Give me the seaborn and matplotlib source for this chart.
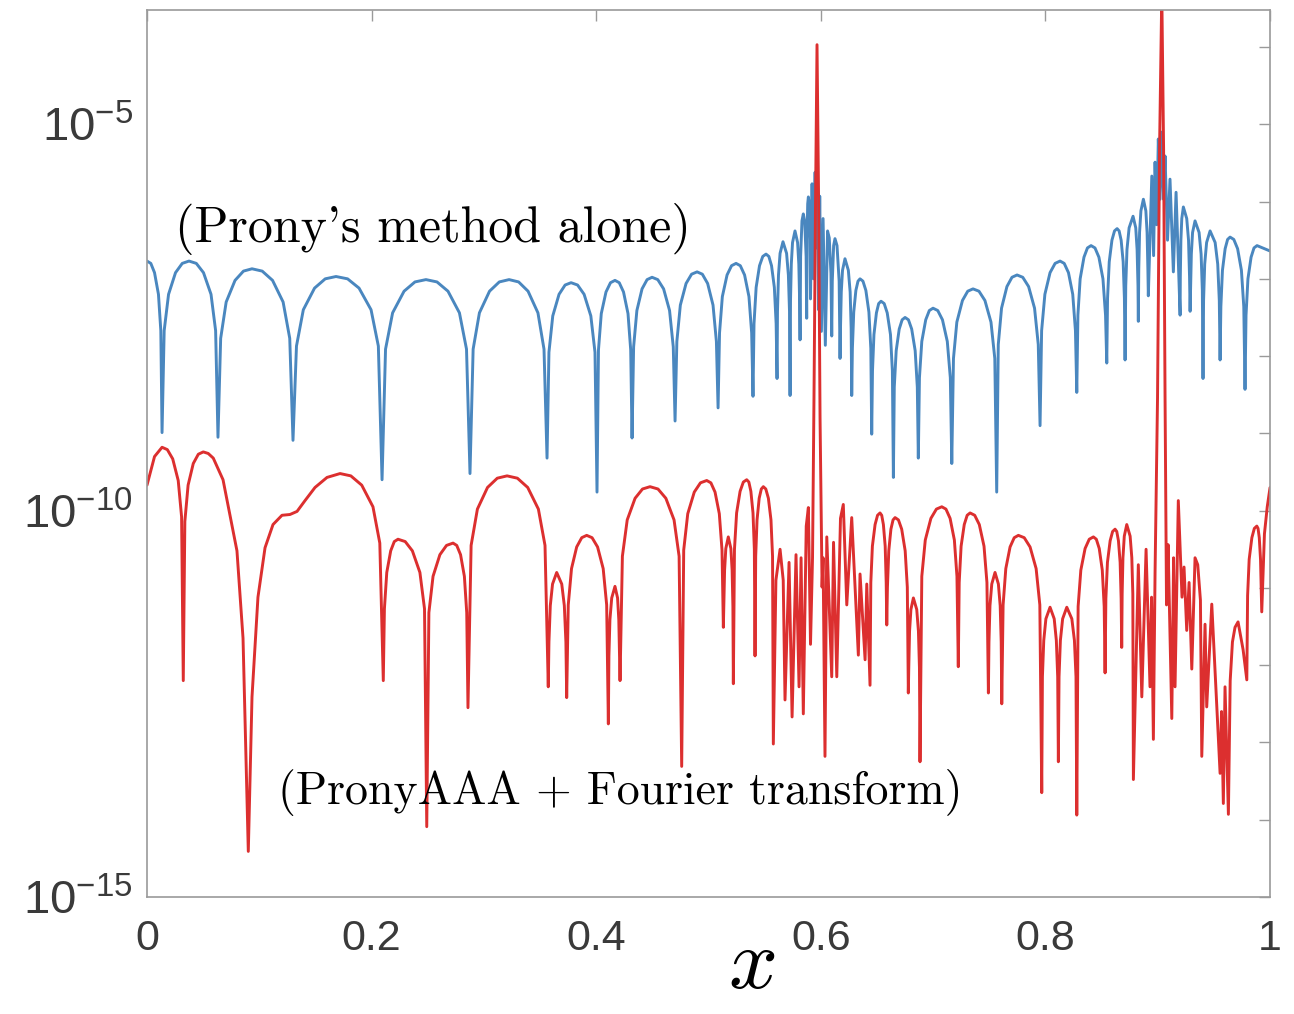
import matplotlib
matplotlib.use('Agg')
import matplotlib.pyplot as plt
import seaborn as sns
import numpy as np
from matplotlib.ticker import NullLocator

# ---------------------------------------------
# 데이터 (그림에서 읽은 값, y 는 log10 지수)
# 한 줄 = 한 개의 아치 (골 -> 꼭대기 -> 골)
# ---------------------------------------------
prony_x = [
    0.0000, 0.0034, 0.0067, 0.0102, 0.0123, 0.0134,
    0.0153, 0.0192, 0.0254, 0.0314, 0.0374, 0.0439, 0.0503, 0.0570, 0.0611, 0.0632,
    0.0656, 0.0705, 0.0784, 0.0859, 0.0935, 0.1026, 0.1118, 0.1212, 0.1271, 0.1300,
    0.1331, 0.1392, 0.1492, 0.1587, 0.1683, 0.1786, 0.1888, 0.1995, 0.2060, 0.2093,
    0.2124, 0.2187, 0.2289, 0.2386, 0.2484, 0.2582, 0.2680, 0.2782, 0.2845, 0.2876,
    0.2904, 0.2960, 0.3050, 0.3137, 0.3224, 0.3309, 0.3393, 0.3481, 0.3535, 0.3562,
    0.3579, 0.3613, 0.3669, 0.3723, 0.3776, 0.3834, 0.3892, 0.3952, 0.3989, 0.4007,
    0.4020, 0.4045, 0.4087, 0.4127, 0.4167, 0.4205, 0.4243, 0.4283, 0.4307, 0.4319,
    0.4333, 0.4362, 0.4408, 0.4453, 0.4497, 0.4548, 0.4600, 0.4653, 0.4686, 0.4702,
    0.4718, 0.4749, 0.4800, 0.4849, 0.4898, 0.4945, 0.4992, 0.5040, 0.5070, 0.5085,
    0.5098, 0.5123, 0.5165, 0.5205, 0.5245, 0.5283, 0.5321, 0.5360, 0.5384, 0.5396,
    0.5405, 0.5424, 0.5454, 0.5483, 0.5512, 0.5537, 0.5561, 0.5586, 0.5602, 0.5610,
    0.5614, 0.5623, 0.5637, 0.5663, 0.5695, 0.5711, 0.5721, 0.5726,
    0.5730, 0.5737, 0.5748, 0.5770, 0.5793, 0.5804, 0.5811, 0.5815,
    0.5820, 0.5832, 0.5844, 0.5856, 0.5869, 0.5874,
    0.5877, 0.5883, 0.5889, 0.5897, 0.5904, 0.5908,
    0.5922, 0.5935, 0.5949, 0.5958, 0.5966, 0.5980, 0.5990, 0.6005,
    0.6020, 0.6040, 0.6060, 0.6075, 0.6090, 0.6097,
    0.6102, 0.6114, 0.6126, 0.6144, 0.6163, 0.6171,
    0.6175, 0.6182, 0.6193, 0.6215, 0.6245, 0.6261, 0.6270, 0.6275,
    0.6281, 0.6293, 0.6312, 0.6331, 0.6349, 0.6375, 0.6401, 0.6428, 0.6445, 0.6453,
    0.6460, 0.6473, 0.6495, 0.6515, 0.6536, 0.6564, 0.6591, 0.6620, 0.6637, 0.6646,
    0.6654, 0.6671, 0.6698, 0.6724, 0.6750, 0.6780, 0.6809, 0.6840, 0.6859, 0.6868,
    0.6878, 0.6899, 0.6934, 0.6966, 0.6999, 0.7041, 0.7083, 0.7126, 0.7153, 0.7166,
    0.7181, 0.7211, 0.7261, 0.7308, 0.7355, 0.7408, 0.7461, 0.7515, 0.7549, 0.7566,
    0.7580, 0.7609, 0.7657, 0.7702, 0.7747, 0.7798, 0.7850, 0.7903, 0.7936, 0.7952,
    0.7966, 0.7995, 0.8041, 0.8086, 0.8130, 0.8167, 0.8205, 0.8243, 0.8267, 0.8279,
    0.8289, 0.8309, 0.8343, 0.8374, 0.8406, 0.8441, 0.8476, 0.8512, 0.8535, 0.8546,
    0.8553, 0.8568, 0.8592, 0.8615, 0.8638, 0.8656, 0.8674, 0.8692, 0.8703, 0.8709,
    0.8715, 0.8726, 0.8745, 0.8780, 0.8804, 0.8816, 0.8824, 0.8827,
    0.8831, 0.8838, 0.8850, 0.8872, 0.8894, 0.8905, 0.8912, 0.8916,
    0.8947, 0.8963, 0.8976, 0.8991, 0.9005, 0.9020, 0.9038, 0.9052,
    0.9065, 0.9087, 0.9109, 0.9139, 0.9163, 0.9199,
    0.9201, 0.9206, 0.9214, 0.9228, 0.9258, 0.9274, 0.9283, 0.9288,
    0.9292, 0.9299, 0.9310, 0.9332, 0.9368, 0.9386, 0.9397, 0.9403,
    0.9408, 0.9418, 0.9435, 0.9466, 0.9511, 0.9534, 0.9548, 0.9555,
    0.9562, 0.9576, 0.9600, 0.9622, 0.9644, 0.9677, 0.9711, 0.9745, 0.9766, 0.9777,
    0.9786, 0.9803, 0.9831, 0.9857, 0.9884, 1.0000,
]
prony_log = [
    -6.77, -6.80, -6.92, -7.20, -7.67, -8.99,
    -7.67, -7.20, -6.92, -6.80, -6.77, -6.80, -6.92, -7.20, -7.67, -9.05,
    -7.77, -7.30, -7.02, -6.90, -6.87, -6.90, -7.02, -7.30, -7.77, -9.09,
    -7.87, -7.40, -7.12, -7.00, -6.97, -7.00, -7.12, -7.40, -7.87, -9.60,
    -7.91, -7.44, -7.16, -7.04, -7.01, -7.04, -7.16, -7.44, -7.91, -9.52,
    -7.91, -7.44, -7.16, -7.04, -7.01, -7.04, -7.16, -7.44, -7.91, -9.32,
    -7.95, -7.48, -7.20, -7.08, -7.05, -7.08, -7.20, -7.48, -7.95, -9.76,
    -7.92, -7.45, -7.17, -7.05, -7.02, -7.05, -7.17, -7.45, -7.92, -9.06,
    -7.88, -7.41, -7.13, -7.01, -6.98, -7.01, -7.13, -7.41, -7.88, -8.84,
    -7.81, -7.34, -7.06, -6.94, -6.91, -6.94, -7.06, -7.34, -7.81, -8.67,
    -7.70, -7.23, -6.95, -6.83, -6.80, -6.83, -6.95, -7.23, -7.70, -8.52,
    -7.58, -7.11, -6.83, -6.71, -6.68, -6.71, -6.83, -7.11, -7.58, -8.29,
    -7.42, -6.95, -6.67, -6.52, -6.67, -6.95, -7.42, -8.51,
    -7.28, -6.81, -6.53, -6.38, -6.53, -6.81, -7.28, -7.79,
    -6.71, -6.25, -6.16, -6.25, -6.71, -7.51,
    -6.49, -6.03, -5.94, -6.03, -6.49, -7.26,
    -5.77, -7.00, -5.62, -6.60, -5.40, -7.40, -5.93, -7.68,
    -6.22, -7.86, -6.38, -6.47, -6.93, -7.74,
    -7.03, -6.57, -6.48, -6.57, -7.03, -8.03,
    -7.64, -7.17, -6.89, -6.74, -6.89, -7.17, -7.64, -8.51,
    -7.90, -7.43, -7.15, -7.03, -7.00, -7.03, -7.15, -7.43, -7.90, -9.01,
    -8.19, -7.72, -7.44, -7.32, -7.29, -7.32, -7.44, -7.72, -8.19, -9.57,
    -8.40, -7.93, -7.65, -7.53, -7.50, -7.53, -7.65, -7.93, -8.40, -9.32,
    -8.28, -7.81, -7.53, -7.41, -7.38, -7.41, -7.53, -7.81, -8.28, -9.39,
    -8.03, -7.56, -7.28, -7.16, -7.13, -7.16, -7.28, -7.56, -8.03, -9.76,
    -7.85, -7.38, -7.10, -6.98, -6.95, -6.98, -7.10, -7.38, -7.85, -8.90,
    -7.67, -7.20, -6.92, -6.80, -6.77, -6.80, -6.92, -7.20, -7.67, -8.47,
    -7.47, -7.00, -6.72, -6.60, -6.57, -6.60, -6.72, -7.00, -7.47, -8.09,
    -7.25, -6.78, -6.50, -6.38, -6.35, -6.38, -6.50, -6.78, -7.25, -8.05,
    -7.09, -6.62, -6.34, -6.19, -6.34, -6.62, -7.09, -7.55,
    -6.87, -6.40, -6.12, -5.97, -6.12, -6.40, -6.87, -7.22,
    -5.67, -6.70, -5.49, -6.30, -5.19, -5.97, -5.10, -5.97,
    -5.41, -6.50, -5.71, -6.91, -5.88, -7.47,
    -6.97, -6.50, -6.22, -6.07, -6.22, -6.50, -6.97, -7.42,
    -7.15, -6.68, -6.40, -6.25, -6.40, -6.68, -7.15, -8.29,
    -7.28, -6.81, -6.53, -6.38, -6.53, -6.81, -7.28, -8.05,
    -7.36, -6.89, -6.61, -6.49, -6.46, -6.49, -6.61, -6.89, -7.36, -8.43,
    -7.47, -7.00, -6.72, -6.60, -6.57, -6.64,
]

aaa_x = [
    0.0000, 0.0067, 0.0134, 0.0181, 0.0229, 0.0278, 0.0308, 0.0323,
    0.0337, 0.0366, 0.0412, 0.0457, 0.0501, 0.0545, 0.0590, 0.0677, 0.0801, 0.0855, 0.0902,
    0.0935, 0.0988, 0.1051, 0.1122, 0.1202, 0.1273, 0.1336, 0.1407, 0.1496, 0.1603,
    0.1719, 0.1815, 0.1912, 0.2012, 0.2073, 0.2104,
    0.2114, 0.2135, 0.2170, 0.2202, 0.2235, 0.2299, 0.2363, 0.2430, 0.2471, 0.2491,
    0.2510, 0.2547, 0.2608, 0.2667, 0.2725, 0.2758, 0.2792, 0.2826, 0.2847, 0.2858,
    0.2886, 0.2942, 0.3032, 0.3119, 0.3206, 0.3298, 0.3390, 0.3485, 0.3544, 0.3573,
    0.3579, 0.3591, 0.3611, 0.3648, 0.3693, 0.3716, 0.3730, 0.3737,
    0.3751, 0.3780, 0.3826, 0.3871, 0.3915, 0.3963, 0.4012, 0.4062, 0.4093, 0.4108,
    0.4113, 0.4122, 0.4138, 0.4167, 0.4190, 0.4201, 0.4208, 0.4212,
    0.4233, 0.4276, 0.4346, 0.4412, 0.4479, 0.4550, 0.4620, 0.4693, 0.4738, 0.4761,
    0.4779, 0.4815, 0.4873, 0.4928, 0.4984, 0.5021, 0.5058, 0.5096, 0.5120, 0.5132,
    0.5136, 0.5143, 0.5154, 0.5176, 0.5199, 0.5210, 0.5217, 0.5221,
    0.5231, 0.5250, 0.5281, 0.5310, 0.5340, 0.5359, 0.5377, 0.5396, 0.5408, 0.5414,
    0.5420, 0.5432, 0.5451, 0.5470, 0.5488, 0.5510, 0.5533, 0.5556, 0.5570, 0.5577,
    0.5600, 0.5637, 0.5665, 0.5681, 0.5717, 0.5744, 0.5779, 0.5806,
    0.5824, 0.5844, 0.5870, 0.5889, 0.5908, 0.5926,
    0.5939, 0.5953, 0.5966, 0.5980, 0.5993,
    0.6011, 0.6020, 0.6037, 0.6053, 0.6097, 0.6113, 0.6142, 0.6175,
    0.6200, 0.6231, 0.6275, 0.6334, 0.6349, 0.6394, 0.6409, 0.6438,
    0.6445, 0.6459, 0.6483, 0.6505, 0.6527, 0.6542, 0.6557, 0.6573, 0.6582, 0.6587,
    0.6593, 0.6605, 0.6624, 0.6643, 0.6661, 0.6691, 0.6720, 0.6751, 0.6770, 0.6779,
    0.6783, 0.6790, 0.6802, 0.6824, 0.6854, 0.6869, 0.6878, 0.6883,
    0.6899, 0.6930, 0.6980, 0.7029, 0.7077, 0.7114, 0.7151, 0.7189, 0.7212, 0.7224,
    0.7232, 0.7249, 0.7277, 0.7303, 0.7329, 0.7370, 0.7411, 0.7453, 0.7479, 0.7492,
    0.7497, 0.7506, 0.7522, 0.7551, 0.7581, 0.7597, 0.7606, 0.7611,
    0.7623, 0.7647, 0.7685, 0.7722, 0.7759, 0.7811, 0.7863, 0.7917, 0.7950, 0.7967,
    0.7973, 0.7985, 0.8004, 0.8041, 0.8078, 0.8097, 0.8109, 0.8115,
    0.8121, 0.8133, 0.8153, 0.8190, 0.8235, 0.8258, 0.8272, 0.8279,
    0.8291, 0.8315, 0.8353, 0.8390, 0.8427, 0.8453, 0.8479, 0.8506, 0.8523, 0.8531,
    0.8538, 0.8552, 0.8576, 0.8598, 0.8620, 0.8635, 0.8650, 0.8665, 0.8674, 0.8679,
    0.8683, 0.8690, 0.8702, 0.8724, 0.8754, 0.8769, 0.8778, 0.8783,
    0.8827, 0.8858, 0.8896, 0.8931, 0.8945, 0.8961, 0.8976,
    0.8998, 0.9016, 0.9036, 0.9052, 0.9065,
    0.9078, 0.9092, 0.9125, 0.9141, 0.9154, 0.9183, 0.9216, 0.9234,
    0.9258, 0.9279, 0.9303, 0.9332, 0.9356, 0.9380, 0.9392, 0.9421,
    0.9436, 0.9481, 0.9555, 0.9568, 0.9584, 0.9599, 0.9629,
    0.9645, 0.9665, 0.9688, 0.9715, 0.9760, 0.9793,
    0.9800, 0.9814, 0.9838, 0.9860, 0.9882, 0.9893, 0.9904, 0.9915, 0.9922, 0.9926,
    0.9950, 0.9975, 1.0000,
]
aaa_log = [
    -9.67, -9.30, -9.18, -9.21, -9.33, -9.61, -10.08, -12.20,
    -10.14, -9.67, -9.39, -9.27, -9.24, -9.26, -9.32, -9.60, -10.52, -11.65, -14.41,
    -12.41, -11.12, -10.48, -10.18, -10.06, -10.05, -10.01, -9.87, -9.70, -9.57,
    -9.52, -9.55, -9.67, -9.95, -10.42, -12.20,
    -11.27, -10.80, -10.52, -10.40, -10.37, -10.40, -10.52, -10.80, -11.27, -14.09,
    -11.32, -10.85, -10.57, -10.45, -10.42, -10.45, -10.57, -10.85, -11.32, -12.55,
    -10.45, -9.98, -9.70, -9.58, -9.55, -9.58, -9.70, -9.98, -10.45, -12.28,
    -11.70, -11.23, -10.95, -10.80, -10.95, -11.23, -11.70, -12.42,
    -11.22, -10.75, -10.47, -10.35, -10.32, -10.35, -10.47, -10.75, -11.22, -12.76,
    -11.88, -11.41, -11.13, -10.98, -11.13, -11.41, -11.88, -12.20,
    -10.59, -10.12, -9.84, -9.72, -9.69, -9.72, -9.84, -10.12, -10.59, -13.31,
    -10.51, -10.04, -9.76, -9.64, -9.61, -9.64, -9.76, -10.04, -10.51, -11.51,
    -11.24, -10.77, -10.49, -10.34, -10.49, -10.77, -11.24, -12.24,
    -10.50, -10.03, -9.75, -9.63, -9.60, -9.63, -9.75, -10.03, -10.50, -11.88,
    -10.59, -10.12, -9.84, -9.72, -9.69, -9.72, -9.84, -10.12, -10.59, -13.02,
    -10.90, -10.50, -10.90, -12.45, -10.67, -12.67, -10.57, -12.28,
    -10.61, -12.63, -10.20, -9.96, -11.73, -10.61,
    -8.54, -5.97, -3.97, -5.97, -8.80,
    -10.99, -10.61, -13.18, -10.34, -12.15, -10.41, -12.15, -10.10,
    -9.92, -11.22, -10.09, -11.87, -10.82, -11.93, -10.95, -12.26,
    -10.93, -10.46, -10.18, -10.06, -10.03, -10.06, -10.18, -10.46, -10.93, -11.48,
    -10.99, -10.52, -10.24, -10.12, -10.09, -10.12, -10.24, -10.52, -10.99, -12.36,
    -12.03, -11.56, -11.28, -11.13, -11.28, -11.56, -12.03, -13.25,
    -10.85, -10.38, -10.10, -9.98, -9.95, -9.98, -10.10, -10.38, -10.85, -12.02,
    -10.93, -10.46, -10.18, -10.06, -10.03, -10.06, -10.18, -10.46, -10.93, -12.36,
    -11.70, -11.23, -10.95, -10.80, -10.95, -11.23, -11.70, -12.50,
    -11.22, -10.75, -10.47, -10.35, -10.32, -10.35, -10.47, -10.75, -11.22, -13.65,
    -12.15, -11.68, -11.40, -11.25, -11.40, -11.68, -12.15, -13.25,
    -12.15, -11.68, -11.40, -11.25, -11.40, -11.68, -12.15, -13.94,
    -11.24, -10.77, -10.49, -10.37, -10.34, -10.37, -10.49, -10.77, -11.24, -12.10,
    -11.14, -10.67, -10.39, -10.27, -10.24, -10.27, -10.39, -10.67, -11.14, -11.77,
    -11.08, -10.61, -10.33, -10.18, -10.33, -10.61, -11.08, -13.48,
    -10.70, -12.41, -10.50, -12.28, -11.12, -12.96, -10.80,
    -8.54, -5.32, -3.30, -5.32, -8.54,
    -11.22, -10.44, -12.69, -10.61, -12.28, -9.87, -11.12, -10.73,
    -11.55, -10.93, -12.05, -10.61, -10.70, -11.16, -13.18, -11.47,
    -12.54, -11.21, -13.40, -12.60, -13.79, -12.28, -13.93,
    -12.20, -11.70, -11.51, -11.44, -11.80, -12.19,
    -11.10, -10.63, -10.35, -10.23, -10.20, -10.23, -10.35, -10.63, -11.10, -11.31,
    -10.30, -9.95, -9.70,
]

assert len(prony_x) == len(prony_log)
assert len(aaa_x) == len(aaa_log)

x_ticks = [0, 0.2, 0.4, 0.6, 0.8, 1]
x_tick_labels = ['0', '0.2', '0.4', '0.6', '0.8', '1']
y_tick_exps = [-15, -14, -13, -12, -11, -10, -9, -8, -7, -6, -5, -4]
y_tick_labels = ['$10^{-15}$', '', '', '', '', '$10^{-10}$', '', '', '', '', '$10^{-5}$', '']

label_prony = "(Prony's method alone)"
label_aaa = '(PronyAAA + Fourier transform)'

# ---------------------------------------------
# 스타일
# ---------------------------------------------
sns.set_theme(style='white')
plt.rcParams['font.family'] = ['Liberation Sans', 'DejaVu Sans']
plt.rcParams['mathtext.fontset'] = 'custom'
plt.rcParams['mathtext.rm'] = 'Liberation Sans'
plt.rcParams['mathtext.it'] = 'Liberation Sans:italic'
plt.rcParams['mathtext.default'] = 'regular'

blue = '#4a87bf'
red = '#dc2f2f'
gray = '#9a9a9a'

fig = plt.figure(figsize=(12.94, 10.14), dpi=100)
ax = fig.add_axes([0.1136, 0.1154, 0.8679, 0.8748])

sns.lineplot(x=prony_x, y=10.0 ** np.array(prony_log), ax=ax, sort=False,
             estimator=None, color=blue, linewidth=2.1, legend=False)
sns.lineplot(x=aaa_x, y=10.0 ** np.array(aaa_log), ax=ax, sort=False,
             estimator=None, color=red, linewidth=2.1, legend=False)
for ln in ax.lines:
    ln.set_solid_joinstyle('round')

ax.set_yscale('log')
ax.set_xlim(0, 1)
ax.set_ylim(1e-15, 10 ** -3.52)

ax.set_xticks(x_ticks, labels=x_tick_labels)
ax.set_yticks([10.0 ** e for e in y_tick_exps], labels=y_tick_labels)
ax.yaxis.set_minor_locator(NullLocator())

ax.tick_params(axis='both', direction='in', length=8, width=1, color=gray,
               top=True, right=True, labeltop=False, labelright=False,
               labelcolor='#3a3a3a')
ax.tick_params(axis='x', pad=16, labelsize=31)
ax.tick_params(axis='y', pad=10, labelsize=34)

for s in ax.spines.values():
    s.set_color(gray)
    s.set_linewidth(1.2)

ax.text(0.025, 10 ** -6.35, label_prony, fontfamily='cmr10', fontsize=36,
        ha='left', va='center', color='black')
ax.text(0.1167, 10 ** -13.65, label_aaa, fontfamily='cmr10', fontsize=33,
        ha='left', va='center', color='black')

ax.set_xlabel('x', fontfamily='cmmi10', fontsize=62, color='black')
ax.xaxis.set_label_coords(0.5396, -0.103)
ax.xaxis.label.set_verticalalignment('baseline')
ax.set_ylabel('')

fig.savefig('out.png', dpi=100)
